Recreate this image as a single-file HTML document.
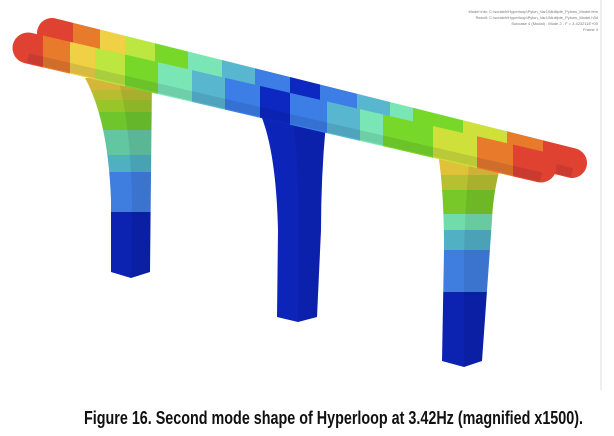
<!DOCTYPE html>
<html><head><meta charset="utf-8"><style>
html,body{margin:0;padding:0;background:#fff;width:614px;height:436px;overflow:hidden}
svg{display:block}
</style></head><body>
<svg id="fig" width="614" height="436" viewBox="0 0 614 436">
<defs id="defs"></defs>
<line x1="601" y1="0" x2="601" y2="390" stroke="#dcdcdc" stroke-width="1"/>
<g font-family="Liberation Sans, sans-serif" font-size="4" fill="#777" text-anchor="end">
<text x="598" y="13">Model info: C:\scratch\Hyperloop\Pylon_Var1\Multiple_Pylons_Model.fem</text>
<text x="598" y="19">Result: C:\scratch\Hyperloop\Pylon_Var1\Multiple_Pylons_Model.h3d</text>
<text x="598" y="25">Subcase 4 (Modal) : Mode 2 - F = 3.423211E+00</text>
<text x="598" y="31">Frame 4</text>
</g>
<g id="pylons"></g>
<g id="tubes"></g>
<text x="84" y="424" font-family="Liberation Sans, sans-serif" font-weight="bold" font-size="18" textLength="499" lengthAdjust="spacingAndGlyphs" fill="#111">Figure 16. Second mode shape of Hyperloop at 3.42Hz (magnified x1500).</text>
</svg>
<script>
const NS='http://www.w3.org/2000/svg';
// band colours (contour legend) and band boundaries along the front tube (x)
const bandColors=['#e04232','#e87a2c','#f0d044','#bce640','#78d82a','#7ae6b6','#58b6ce','#3c7ee6','#0c28c0','#3c7ee6','#58b6ce','#7ae6b6','#78d82a','#cfe03a','#e87a2c','#e04232'];
const frontBandEdges=[13,43,70,95,125,158,192,225,260,290,327,360,383,433,477,513,557];
const backOffset=30;
// pylon band colours and boundaries (y)
const leftPylonColors=['#d4b63a','#b6be30','#98c62a','#6ec62c','#62c6a0','#4eb0c0','#3f7ede','#0c22b0'];
const leftPylonEdges=[78,90,100,112,130,155,172,212,280];
const rightPylonColors=['#e0c23a','#b6c030','#78c82a','#70dcac','#52b0c4','#3f7ede','#0c22b0'];
const rightPylonEdges=[153,175,190,214,230,250,292,368];

const defs=document.getElementById('defs');
function hardGrad(id,colors,edges,vertical){
  const g=document.createElementNS(NS,'linearGradient');
  g.setAttribute('id',id);g.setAttribute('gradientUnits','userSpaceOnUse');
  const a=edges[0],b=edges[edges.length-1];
  if(vertical){g.setAttribute('x1',0);g.setAttribute('x2',0);g.setAttribute('y1',a);g.setAttribute('y2',b);}
  else{g.setAttribute('y1',0);g.setAttribute('y2',0);g.setAttribute('x1',a);g.setAttribute('x2',b);}
  colors.forEach((c,i)=>{
    [edges[i],edges[i+1]].forEach(e=>{
      const s=document.createElementNS(NS,'stop');
      s.setAttribute('offset',((e-a)/(b-a)).toFixed(4));s.setAttribute('stop-color',c);g.appendChild(s);
    });
  });
  defs.appendChild(g);
}
hardGrad('gFront',bandColors,frontBandEdges,false);
hardGrad('gBack',bandColors,frontBandEdges.map(e=>e+backOffset),false);
hardGrad('gLeft',leftPylonColors,leftPylonEdges,true);
hardGrad('gRight',rightPylonColors,rightPylonEdges,true);

const pyl=document.getElementById('pylons');
function pylon(name,d,fill,shade){
  const p=document.createElementNS(NS,'path');
  p.setAttribute('d',d);p.setAttribute('fill',fill);
  
  
  pyl.appendChild(p);
  const s=document.createElementNS(NS,'path');
  s.setAttribute('d',shade);s.setAttribute('fill','rgba(0,0,30,0.08)');
  
  
  pyl.appendChild(s);
}
pylon('left-pylon','M85,78 L152,78 L150,272 L131,278 L111,272 L111,200 Q108,120 85,78 Z','url(#gLeft)','M118,80 L152,78 L150,272 L131,278 L132,200 Q130,120 118,80 Z');
pylon('middle-pylon','M260,113 L327,113 Q321,170 321,230 L317,317 L298,322 L277,317 L278,230 Q276,150 260,113 Z','#0c24b8','M292,114 L327,113 Q321,170 321,230 L317,317 L298,322 L299,230 Q298,150 292,114 Z');
pylon('right-pylon','M438,153 L504,153 Q493,190 492,220 L482,361 L464,367 L442,361 L444,250 Q444,190 438,153 Z','url(#gRight)','M470,154 L504,153 Q493,190 492,220 L482,361 L464,367 L464,250 Q466,190 470,154 Z');

const tubes=document.getElementById('tubes');
function tube(name,x1,y1,x2,y2,w,grad){
  const g=document.createElementNS(NS,'g');
  
  
  const l=document.createElementNS(NS,'line');
  l.setAttribute('x1',x1);l.setAttribute('y1',y1);l.setAttribute('x2',x2);l.setAttribute('y2',y2);
  l.setAttribute('stroke',grad);l.setAttribute('stroke-width',w);l.setAttribute('stroke-linecap','round');
  g.appendChild(l);
  const sh=document.createElementNS(NS,'line');
  sh.setAttribute('x1',x1);sh.setAttribute('y1',y1+w*0.32);sh.setAttribute('x2',x2);sh.setAttribute('y2',y2+w*0.32);
  sh.setAttribute('stroke','rgba(0,0,40,0.10)');sh.setAttribute('stroke-width',w*0.3);
  g.appendChild(sh);
  tubes.appendChild(g);
}
tube('back-tube',52,33,572,163,30,'url(#gBack)');
tube('front-tube',28,48,541,167,31,'url(#gFront)');
</script>
</body></html>
